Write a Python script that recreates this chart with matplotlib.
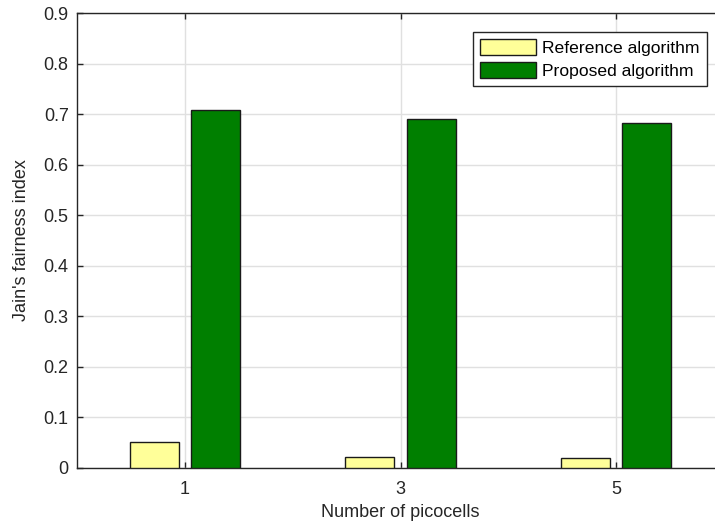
import matplotlib
matplotlib.use("Agg")
import matplotlib.pyplot as plt
import numpy as np

plt.rcParams['font.family'] = ['Liberation Sans', 'DejaVu Sans']

categories = ["1", "3", "5"]
reference = [0.051, 0.022, 0.020]
proposed = [0.708, 0.690, 0.682]
series_names = ["Reference algorithm", "Proposed algorithm"]
yticks = [0, 0.1, 0.2, 0.3, 0.4, 0.5, 0.6, 0.7, 0.8, 0.9]

TXT = '#262626'
fig = plt.figure(figsize=(7.15, 5.25), dpi=100)
ax = fig.add_axes([77/715, 57/525, 647/715, 455/525])

x = np.arange(1, len(categories) + 1)
w = 0.227
off = 0.142
ax.bar(x - off, reference, w, color='#FFFF99', edgecolor='#1a1a1a', linewidth=1.0,
       label=series_names[0], zorder=3)
ax.bar(x + off, proposed, w, color='#007F00', edgecolor='#1a1a1a', linewidth=1.0,
       label=series_names[1], zorder=3)

ax.set_xlim(0.5, 3.5)
ax.set_ylim(0, 0.9)
ax.set_xticks(x)
ax.set_xticklabels(categories)
ax.set_yticks(yticks)
ax.set_yticklabels([f"{v:g}" for v in yticks])
ax.grid(True, color='#e0e0e0', linewidth=1.0, zorder=0)
ax.set_axisbelow(True)
ax.tick_params(direction='in', length=4.5, width=1.0, colors=TXT, labelsize=13,
               top=True, right=True)
ax.tick_params(axis='x', pad=9)
ax.tick_params(axis='y', pad=6)
for s in ax.spines.values():
    s.set_color(TXT)
    s.set_linewidth(1.0)
ax.set_xlabel("Number of picocells", fontsize=13, color=TXT, labelpad=5)
ax.set_ylabel("Jain's fairness index", fontsize=13, color=TXT, labelpad=10)

leg = ax.legend(loc='upper right', bbox_to_anchor=(707/715, 1 - 32/525),
                bbox_transform=fig.transFigure, borderaxespad=0, fontsize=12.6,
                fancybox=False, framealpha=1, edgecolor=TXT, handlelength=3.2,
                handleheight=1.0, handletextpad=0.35, labelspacing=0.33,
                borderpad=0.42)
leg.get_frame().set_linewidth(1.0)
for t in leg.get_texts():
    t.set_color('black')

fig.savefig("out.png", dpi=100)
